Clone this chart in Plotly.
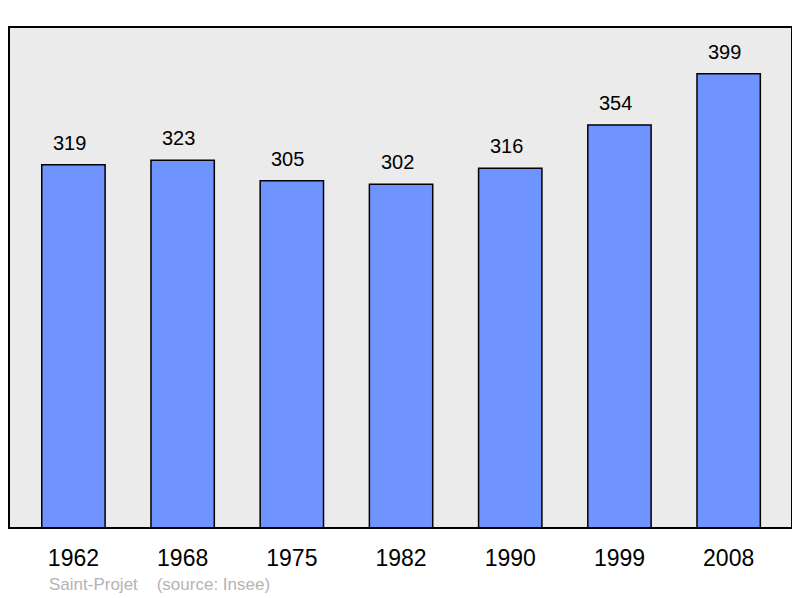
import plotly.graph_objects as go

# population of Saint-Projet by census year
years = ["1962", "1968", "1975", "1982", "1990", "1999", "2008"]
population = [319, 323, 305, 302, 316, 354, 399]

font_family = "Liberation Sans, Arial, sans-serif"

fig = go.Figure()

fig.add_trace(
    go.Bar(
        x=years,
        y=population,
        width=0.58,
        marker=dict(color="#7094ff", line=dict(color="black", width=1.5)),
        hoverinfo="x+y",
    )
)

# value labels above each bar (category index as x)
for i, value in enumerate(population):
    fig.add_annotation(
        x=i, y=value,
        text=str(value),
        showarrow=False,
        yanchor="bottom",
        yshift=9,
        xshift=-4,
        font=dict(family=font_family, size=20, color="black"),
    )

# source line at the bottom
fig.add_annotation(
    x=0.048, y=-0.112,
    xref="paper", yref="paper",
    xanchor="left", yanchor="middle",
    text="Saint-Projet    (source: Insee)",
    showarrow=False,
    font=dict(family=font_family, size=17, color="#b4b4b4"),
)

# frame around the plot area
fig.add_shape(
    type="rect", xref="paper", yref="paper",
    x0=0, y0=0, x1=1, y1=1,
    line=dict(color="black", width=2),
    layer="above",
)

# the page body has an 8px margin, so the figure is made a bit smaller
fig.update_layout(
    width=792, height=590,
    margin=dict(l=1, r=8, t=19, b=70),
    paper_bgcolor="white",
    plot_bgcolor="#ebebeb",
    showlegend=False,
    xaxis=dict(
        type="category",
        range=[-0.59, 6.58],
        showgrid=False, zeroline=False,
        ticks="outside", ticklen=9, tickcolor="rgba(0,0,0,0)",
        tickfont=dict(family=font_family, size=23, color="black"),
    ),
    yaxis=dict(
        range=[0, 440],
        showgrid=False, zeroline=False, showticklabels=False,
    ),
)

fig.write_html("out.html")
